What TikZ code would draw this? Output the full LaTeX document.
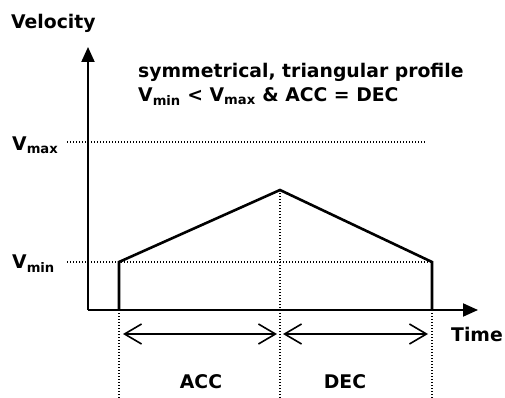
\documentclass[tikz,border=0pt]{standalone}
\usepackage{fontspec}
\setmainfont{DejaVu Sans}
\usetikzlibrary{arrows.meta}
\begin{document}
\begin{tikzpicture}[x=1pt,y=-1pt,
  lbl/.style={font=\bfseries\fontsize{18.8}{21}\selectfont, inner sep=0pt},
  axis/.style={line width=2pt, -{Triangle[length=15pt,width=13pt]}},
  prof/.style={line width=2.6pt, line join=miter},
  guide/.style={line width=1.2pt, dash pattern=on 1.2pt off 1.8pt},
  span/.style={line width=1.6pt, {Straight Barb[length=17pt,width=20pt]}-{Straight Barb[length=17pt,width=20pt]}}]
\useasboundingbox (0,0) rectangle (505,398);
% coordinates
\coordinate (O) at (88,310);
\coordinate (ytop) at (88,47);
\coordinate (xend) at (478,310);
\coordinate (s0) at (119,310);
\coordinate (s1) at (119,262);
\coordinate (pk) at (280,190);
\coordinate (e1) at (432,262);
\coordinate (e0) at (432,310);
% guides
\draw[guide] (67,142) -- (425,142);
\draw[guide] (67,262) -- (e1);
\draw[guide] (pk) -- (280,398);
\draw[guide] (s0) -- (119,398);
\draw[guide] (e0) -- (432,398);
% axes
\draw[axis] (O) -- (ytop);
\draw[axis] (O) -- (xend);
% profile
\draw[prof] (s0) -- (s1) -- (pk) -- (e1) -- (e0);
% spans
\draw[span] (123,334) -- (277,334);
\draw[span] (283,334) -- (428,334);
% labels
\node[lbl, anchor=west] (vel) at (11,23) {Velocity};
\node[lbl, anchor=west] (t1) at (138,72) {symmetrical, triangular profile};
\node[lbl, anchor=west] (t2) at (138,97) {V\textsubscript{min} < V\textsubscript{max} \& ACC = DEC};
\node[lbl, anchor=west] (vmax) at (12,145) {V\textsubscript{max}};
\node[lbl, anchor=west] (vmin) at (12,264) {V\textsubscript{min}};
\node[lbl, anchor=west] (time) at (451,334) {Time};
\node[lbl] (acc) at (201,382) {ACC};
\node[lbl] (dec) at (345,382) {DEC};
\end{tikzpicture}
\end{document}
